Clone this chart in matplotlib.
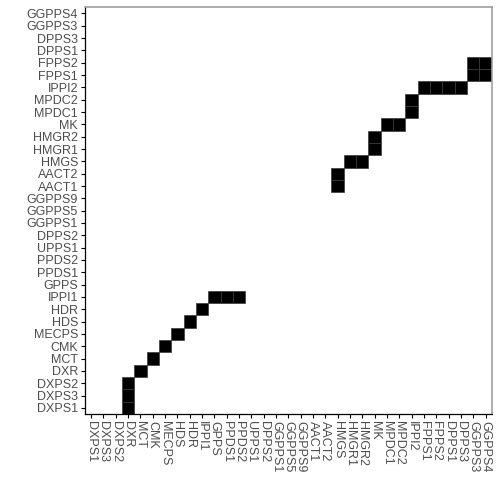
import matplotlib
matplotlib.use("Agg")
import matplotlib.pyplot as plt

categories = ["DXPS1", "DXPS3", "DXPS2", "DXR", "MCT", "CMK", "MECPS", "HDS", "HDR",
              "IPPI1", "GPPS", "PPDS1", "PPDS2", "UPPS1", "DPPS2", "GGPPS1", "GGPPS5",
              "GGPPS9", "AACT1", "AACT2", "HMGS", "HMGR1", "HMGR2", "MK", "MPDC1",
              "MPDC2", "IPPI2", "FPPS1", "FPPS2", "DPPS1", "DPPS3", "GGPPS3", "GGPPS4"]

x_genes = ["DXR", "DXR", "DXR", "MCT", "CMK", "MECPS", "HDS", "HDR", "IPPI1",
           "GPPS", "PPDS1", "PPDS2",
           "HMGS", "HMGS", "HMGR1", "HMGR2", "MK", "MK", "MPDC1", "MPDC2",
           "IPPI2", "IPPI2", "FPPS1", "FPPS2", "DPPS1", "DPPS3",
           "GGPPS3", "GGPPS4", "GGPPS3", "GGPPS4"]
y_genes = ["DXPS1", "DXPS3", "DXPS2", "DXR", "MCT", "CMK", "MECPS", "HDS", "HDR",
           "IPPI1", "IPPI1", "IPPI1",
           "AACT1", "AACT2", "HMGS", "HMGS", "HMGR1", "HMGR2", "MK", "MK",
           "MPDC1", "MPDC2", "IPPI2", "IPPI2", "IPPI2", "IPPI2",
           "FPPS1", "FPPS1", "FPPS2", "FPPS2"]

plt.rcParams['font.family'] = ['Liberation Sans', 'DejaVu Sans']

fig = plt.figure(figsize=(5, 5), dpi=100)
ax = fig.add_axes([0.170, 0.172, 0.8134, 0.8134])

idx = {c: i for i, c in enumerate(categories)}
xs = [idx[g] for g in x_genes]
ys = [idx[g] for g in y_genes]
ax.bar(xs, 1, bottom=[y - 0.5 for y in ys], width=1, color='black',
       edgecolor='#3a3a3a', linewidth=0.5, zorder=2)

n = len(categories)
ax.set_xlim(-0.5, n - 0.5)
ax.set_ylim(-0.5, n - 0.5)
ax.set_xticks(range(n))
ax.set_yticks(range(n))
ax.set_xticklabels(categories, rotation=-90, ha='center', va='top')
ax.set_yticklabels(categories)
ax.tick_params(axis='both', length=3, width=0.8, color='black', labelsize=9,
               labelcolor='#4d4d4d', pad=2)

for side in ['left', 'bottom']:
    ax.spines[side].set_color('black')
    ax.spines[side].set_linewidth(0.9)
for side in ['top', 'right']:
    ax.spines[side].set_color('#a0a0a0')
    ax.spines[side].set_linewidth(1.2)

fig.savefig("out.png", dpi=100)
